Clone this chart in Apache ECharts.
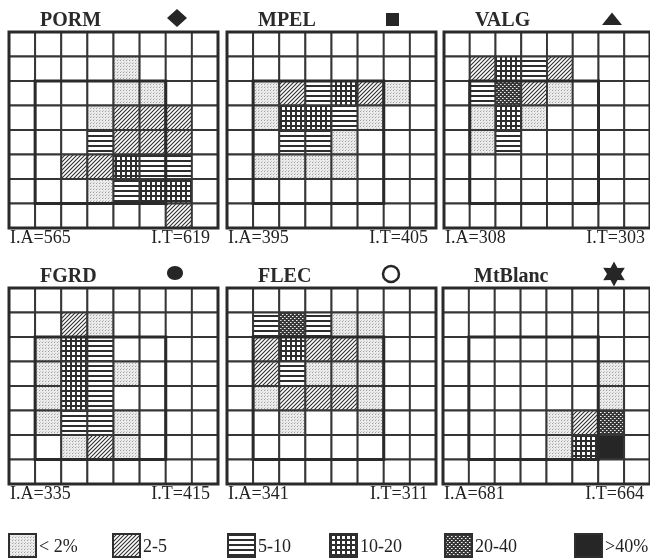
<!DOCTYPE html>
<html>
<head>
<meta charset="utf-8">
<script src="https://cdn.jsdelivr.net/npm/echarts@6/dist/echarts.min.js"></script>
<style>html,body{margin:0;padding:0;background:#fff;}#main{width:650px;height:560px;}</style>
</head>
<body>
<div id="main"></div>
<script>
// ---- data ----
const panelNames = ['PORM', 'MPEL', 'VALG', 'FGRD', 'FLEC', 'MtBlanc'];
const totalIA = [565, 395, 308, 335, 341, 681];
const totalIT = [619, 405, 303, 415, 311, 664];
const levelLabels = ['< 2%', '2-5', '5-10', '10-20', '20-40', '>40%'];
const colCats = ['0', '1', '2', '3', '4', '5', '6', '7'];
const rowCats = ['0', '1', '2', '3', '4', '5', '6', '7'];
// cell class per row (0 = empty, 1 = <2%, 2 = 2-5, 3 = 5-10, 4 = 10-20, 5 = 20-40, 6 = >40%)
const PORM = ['00000000', '00001000', '00001100', '00012220', '00032220', '00224330', '00013440', '00000020'];
const MPEL = ['00000000', '00000000', '01234210', '01443100', '00331000', '01111000', '00000000', '00000000'];
const VALG = ['00000000', '02432000', '03521000', '01410000', '01300000', '00000000', '00000000', '00000000'];
const FGRD = ['00000000', '00210000', '01430000', '01431000', '01430000', '01331000', '00121000', '00000000'];
const FLEC = ['00000000', '03531100', '02422100', '02311100', '01222100', '00100100', '00000000', '00000000'];
const MtBlanc = ['00000000', '00000000', '00000000', '00000010', '00000010', '00001250', '00001460', '00000000'];
const panelGrids = [PORM, MPEL, VALG, FGRD, FLEC, MtBlanc];
// outer frame and inner block in cell indices [c0, r0, c1, r1]
const frames = [[0, 0, 7, 7], [1, 2, 5, 6]];

// ---- patterns ----
function makePattern(w, h, draw) {
  const c = document.createElement('canvas');
  c.width = w; c.height = h;
  const g = c.getContext('2d');
  draw(g, w, h);
  return { image: c, repeat: 'repeat' };
}
const INK = '#2e2e2e';
const fills = [
  '#ffffff',
  makePattern(3, 3, g => { g.fillStyle = '#ebebeb'; g.fillRect(0, 0, 3, 3); g.fillStyle = '#a0a0a0'; g.fillRect(0, 0, 1, 1); g.fillStyle = '#c8c8c8'; g.fillRect(1, 2, 1, 1); }),
  makePattern(4, 4, g => { g.fillStyle = '#fff'; g.fillRect(0, 0, 4, 4); g.strokeStyle = INK; g.lineWidth = 1.1;
    g.beginPath(); g.moveTo(-1, 5); g.lineTo(5, -1); g.moveTo(-1, 1); g.lineTo(1, -1); g.moveTo(3, 5); g.lineTo(5, 3); g.stroke(); }),
  makePattern(1, 5, g => { g.fillStyle = '#fff'; g.fillRect(0, 0, 1, 5); g.fillStyle = INK; g.fillRect(0, 0, 1, 2); }),
  makePattern(5, 5, g => { g.fillStyle = '#fff'; g.fillRect(0, 0, 5, 5); g.fillStyle = INK; g.fillRect(0, 0, 5, 2); g.fillRect(0, 0, 2, 5); }),
  makePattern(4, 4, g => { g.fillStyle = '#383838'; g.fillRect(0, 0, 4, 4); g.fillStyle = '#f2f2f2'; g.fillRect(0, 0, 1, 1); g.fillRect(2, 2, 1, 1);
    g.fillStyle = '#9a9a9a'; g.fillRect(1, 0, 1, 1); g.fillRect(3, 2, 1, 1); }),
  '#262626'
];

// ---- layout ----
const layout = [[9, 32], [227, 32], [444, 32], [9, 288], [227, 288], [443, 288]];
const GW = 209, GH = 196;

const grids = [], xAxes = [], yAxes = [], series = [], titles = [], graphics = [];
panelNames.forEach((name, i) => {
  const [L, T] = layout[i];
  grids.push({ left: L, top: T, width: GW, height: GH });
  xAxes.push({ type: 'category', data: colCats, gridIndex: i, show: false });
  yAxes.push({ type: 'category', data: rowCats, gridIndex: i, inverse: true, show: false });
  const cells = [];
  panelGrids[i].forEach((rowStr, r) => {
    rowStr.split('').forEach((ch, c) => cells.push([c, r, +ch]));
  });
  series.push({
    type: 'custom', xAxisIndex: i, yAxisIndex: i, data: cells, silent: true,
    renderItem: (params, api) => {
      const p = api.coord([api.value(0), api.value(1)]);
      const s = api.size([1, 1]);
      return { type: 'rect', shape: { x: p[0] - s[0] / 2, y: p[1] - s[1] / 2, width: s[0], height: s[1] },
        style: { fill: fills[api.value(2)], stroke: '#363636', lineWidth: 1.9 } };
    }
  });
  series.push({
    type: 'custom', xAxisIndex: i, yAxisIndex: i, data: frames, silent: true, z: 3,
    renderItem: (params, api) => {
      const a = api.coord([api.value(0), api.value(1)]);
      const b = api.coord([api.value(2), api.value(3)]);
      const s = api.size([1, 1]);
      return { type: 'rect', shape: { x: a[0] - s[0] / 2, y: a[1] - s[1] / 2, width: b[0] - a[0] + s[0], height: b[1] - a[1] + s[1] },
        style: { fill: null, stroke: '#2a2a2a', lineWidth: 3 } };
    }
  });
  titles.push({ text: name, left: L + 31, top: T - 21, padding: 0,
    textStyle: { fontFamily: 'Liberation Serif', fontWeight: 'bold', fontSize: 20, color: '#2a2a2a' } });
  // I.A / I.T labels
  graphics.push({ type: 'text', x: L + 1, y: T + GH + 10, style: { text: 'I.A=' + totalIA[i], font: '18px "Liberation Serif"', fill: '#222', textAlign: 'left', textVerticalAlign: 'middle' } });
  graphics.push({ type: 'text', x: L + 201, y: T + GH + 10, style: { text: 'I.T=' + totalIT[i], font: '18px "Liberation Serif"', fill: '#222', textAlign: 'right', textVerticalAlign: 'middle' } });
});

// panel marker symbols
const sym = [
  { type: 'polygon', x: 177, y: 18, shape: { points: [[0, -9], [10, 0], [0, 9], [-10, 0]] }, style: { fill: '#262626' } },
  { type: 'rect', x: 386, y: 13, shape: { width: 13, height: 13 }, style: { fill: '#262626' } },
  { type: 'polygon', x: 612, y: 19, shape: { points: [[0, -6.5], [10, 6], [-10, 6]] }, style: { fill: '#262626' } },
  { type: 'ellipse', x: 0, y: 0, shape: { cx: 175, cy: 273, rx: 8, ry: 7 }, style: { fill: '#262626' } },
  { type: 'circle', x: 0, y: 0, shape: { cx: 391, cy: 274, r: 8 }, style: { fill: 'none', stroke: '#262626', lineWidth: 2.5 } },
  { type: 'polygon', x: 614, y: 274, shape: { points: (() => { const pts = []; for (let k = 0; k < 12; k++) { const a = -Math.PI / 2 + k * Math.PI / 6; const rr = k % 2 ? 7 : 12.5; pts.push([rr * Math.cos(a), rr * Math.sin(a)]); } return pts; })() }, style: { fill: '#262626' } }
];
sym.forEach(s => graphics.push(s));

// legend
const legendX = [9, 113, 228, 330, 445, 575];
levelLabels.forEach((lab, k) => {
  graphics.push({ type: 'rect', x: legendX[k], y: 534, shape: { width: 27, height: 23 }, style: { fill: fills[k + 1], stroke: '#2e2e2e', lineWidth: 2 } });
  graphics.push({ type: 'text', x: legendX[k] + 30, y: 547, style: { text: lab, font: '18px "Liberation Serif"', fill: '#222', textAlign: 'left', textVerticalAlign: 'middle' } });
});

const chart = echarts.init(document.getElementById('main'), null, { renderer: 'canvas' });
chart.setOption({
  animation: false,
  backgroundColor: '#fff',
  title: titles,
  grid: grids,
  xAxis: xAxes,
  yAxis: yAxes,
  series: series,
  graphic: { elements: graphics }
});
</script>
</body>
</html>
